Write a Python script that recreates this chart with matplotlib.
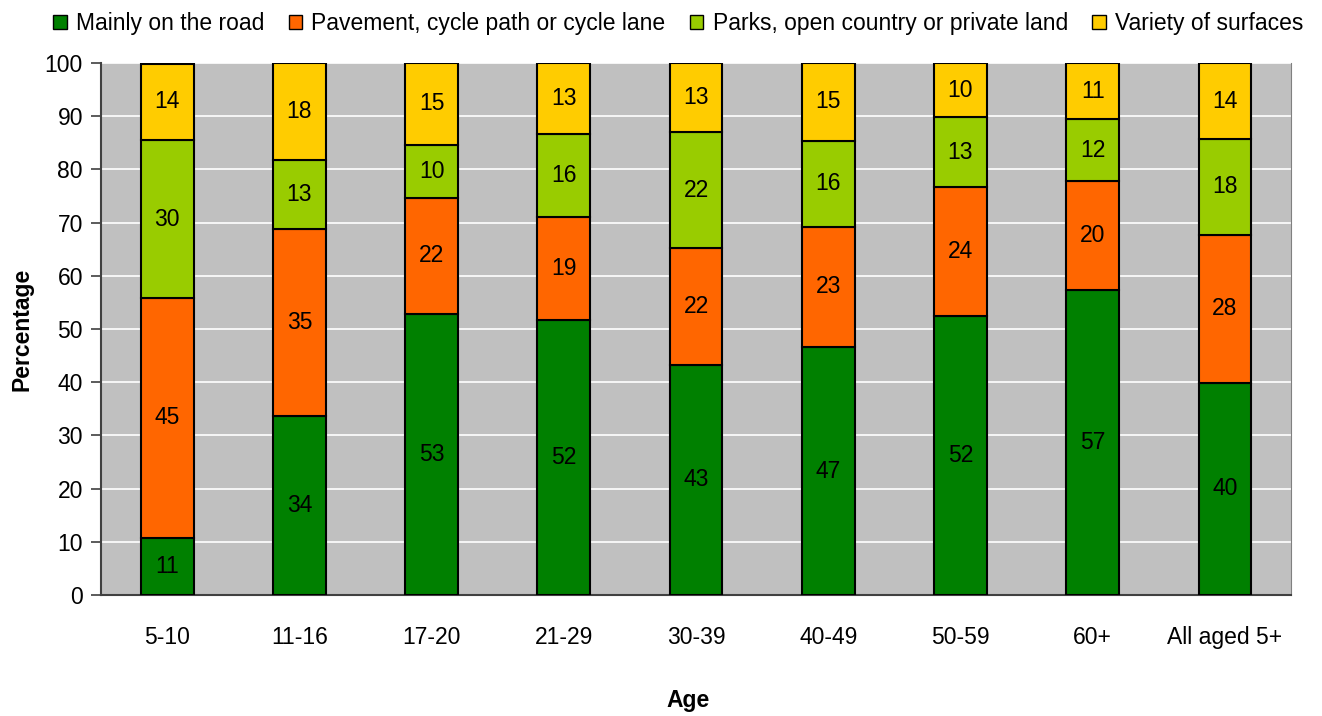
import numpy as np
import matplotlib
matplotlib.use("Agg")
import matplotlib.pyplot as plt
from matplotlib.patches import Patch

plt.rcParams["font.family"] = ["Liberation Sans", "DejaVu Sans"]

ages = ["5-10", "11-16", "17-20", "21-29", "30-39", "40-49", "50-59", "60+", "All aged 5+"]
road = [10.8, 33.6, 52.9, 51.6, 43.3, 46.6, 52.4, 57.4, 39.9]
pavement = [45.0, 35.2, 21.8, 19.4, 21.9, 22.6, 24.2, 20.4, 27.8]
parks = [29.7, 13.0, 9.9, 15.6, 21.8, 16.2, 13.2, 11.6, 18.0]
variety = [14.4, 18.2, 15.4, 13.4, 13.0, 14.6, 10.2, 10.6, 14.3]

series = [
    ("Mainly on the road", road, "#008000"),
    ("Pavement, cycle path or cycle lane", pavement, "#FF6600"),
    ("Parks, open country or private land", parks, "#99CC00"),
    ("Variety of surfaces", variety, "#FFCC00"),
]

FS = 16.5

fig = plt.figure(figsize=(13.22, 7.16), dpi=100)
ax = fig.add_axes([0.0764, 0.169, 0.9002, 0.743])
ax.set_facecolor("#C0C0C0")

x = np.arange(len(ages))
bottom = np.zeros(len(ages))
handles = []
for name, vals, col in series:
    vals = np.array(vals)
    ax.bar(x, vals, 0.4, bottom=bottom, color=col, edgecolor="black", linewidth=1.5, zorder=3)
    for xi, b, v in zip(x, bottom, vals):
        ax.text(xi, b + v / 2, f"{v:.0f}", ha="center", va="center", fontsize=FS, zorder=4)
    bottom += vals
    handles.append(Patch(facecolor=col, edgecolor="black", linewidth=1))

ax.set_xlim(-0.5, len(ages) - 0.5)
ax.set_ylim(0, 100)
ax.set_yticks(range(0, 101, 10))
ax.yaxis.grid(True, color="white", linewidth=1.2, zorder=1)
ax.set_xticks(x)
ax.set_xticklabels(ages)
ax.tick_params(axis="x", length=0, pad=22, labelsize=FS)
ax.tick_params(axis="y", length=7, width=1.2, color="#404040", labelsize=FS, pad=6)

ax.spines["top"].set_visible(False)
ax.spines["right"].set_color("#808080")
ax.spines["left"].set_color("#404040")
ax.spines["bottom"].set_color("#404040")
ax.spines["left"].set_linewidth(1.5)
ax.spines["bottom"].set_linewidth(1.5)

ax.set_ylabel("Percentage", fontsize=FS, fontweight="bold", labelpad=8)
fig.text(688 / 1322, 1 - 700 / 716, "Age", fontsize=FS, fontweight="bold", ha="center", va="center")

fig.legend(handles, [s[0] for s in series], loc="upper center", bbox_to_anchor=(0.513, 1.012),
           ncol=4, frameon=False, fontsize=FS, handlelength=0.6, handleheight=0.6,
           handletextpad=0.4, columnspacing=1.05)

fig.savefig("out.png", dpi=100)
